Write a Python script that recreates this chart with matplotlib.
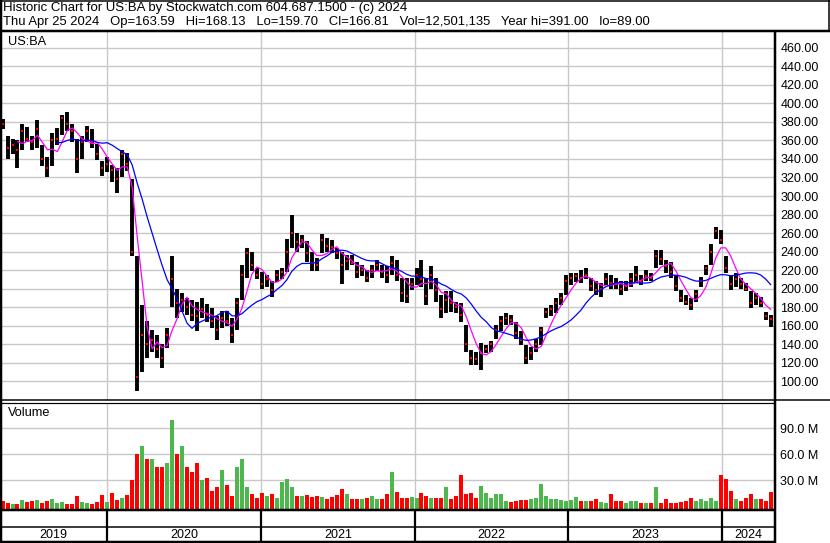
import numpy as np
import pandas as pd
import matplotlib
matplotlib.use('Agg')
import matplotlib.pyplot as plt
from matplotlib.lines import Line2D

plt.rcParams['font.family'] = ['Liberation Sans', 'DejaVu Sans']

# --- data (one sample every ~8 trading days) ---
hi = [383, 365, 362, 360, 378, 375, 365, 382, 355, 342, 368, 373, 388, 391, 378, 362, 365, 376, 372, 356,
      338, 342, 334, 330, 350, 346, 318, 235, 182, 165, 155, 150, 140, 158, 235, 200, 195, 190, 188,
      186, 190, 183, 179, 170, 176, 176, 168, 190, 226, 244, 240, 222, 218, 215, 208, 220, 222, 254, 279,
      260, 258, 251, 240, 233, 259, 255, 253, 244, 240, 236, 236, 229, 225, 220, 225, 231, 226,
      224, 235, 231, 211, 211, 211, 222, 231, 211, 224, 211, 193, 197, 197, 186, 184, 161, 134, 132, 141,
      139, 143, 161, 170, 174, 172, 164, 154, 139, 137, 146, 159, 179, 182, 190, 195, 215, 217, 217,
      220, 222, 211, 208, 206, 217, 215, 211, 208, 208, 217, 224, 215, 220, 217, 242, 242, 231, 229, 215,
      199, 193, 190, 199, 213, 226, 248, 267, 263, 235, 215, 217, 211, 206, 197, 195, 191, 175, 171]
lo = [372, 340, 345, 330, 350, 358, 350, 352, 332, 320, 332, 355, 366, 370, 358, 325, 340, 358, 352, 339,
      322, 326, 315, 303, 320, 327, 235, 89, 110, 125, 132, 125, 114, 136, 180, 168, 175, 172, 165,
      154, 168, 164, 157, 145, 157, 160, 141, 155, 188, 211, 219, 210, 200, 202, 191, 207, 210, 218, 244,
      240, 244, 229, 219, 219, 238, 240, 238, 232, 205, 220, 225, 211, 214, 207, 212, 219, 212,
      206, 215, 208, 186, 184, 199, 204, 202, 182, 200, 186, 168, 174, 175, 174, 164, 132, 118, 118, 112,
      130, 132, 146, 154, 161, 161, 146, 139, 119, 123, 132, 139, 168, 170, 174, 182, 193, 204, 207,
      206, 210, 197, 193, 191, 204, 200, 200, 193, 197, 202, 206, 204, 208, 208, 222, 226, 217, 211, 197,
      186, 182, 177, 186, 202, 215, 226, 254, 248, 217, 199, 202, 200, 197, 179, 182, 180, 166, 159]
cl = [378, 352, 355, 350, 370, 362, 358, 372, 340, 330, 360, 362, 384, 378, 370, 340, 358, 370, 358, 345,
      330, 335, 328, 318, 345, 335, 240, 105, 150, 140, 145, 135, 125, 150, 210, 185, 188, 180, 172,
      170, 178, 172, 165, 155, 168, 165, 150, 185, 215, 238, 225, 215, 205, 210, 198, 215, 218, 240, 260,
      250, 252, 238, 228, 225, 252, 246, 245, 238, 225, 230, 228, 218, 220, 212, 220, 225, 218,
      215, 228, 215, 195, 192, 205, 215, 210, 192, 215, 198, 178, 188, 185, 180, 172, 140, 125, 124, 130,
      135, 140, 155, 165, 168, 166, 152, 145, 125, 130, 140, 155, 175, 178, 185, 190, 208, 212, 214,
      212, 215, 203, 198, 200, 210, 206, 205, 200, 203, 210, 215, 208, 214, 212, 235, 232, 224, 218, 203,
      190, 186, 182, 194, 208, 222, 240, 262, 252, 222, 205, 210, 205, 200, 185, 190, 184, 170, 167]
# volume in millions
vol = [6, 4, 3, 3, 7, 5, 6, 7, 4, 6, 9, 4, 5, 3, 3, 12, 5, 4, 3, 5,
       13, 5, 15, 7, 10, 13, 30, 60, 70, 55, 55, 45, 45, 50, 100, 60, 70, 45, 40, 50,
       30, 33, 18, 22, 42, 25, 12, 45, 55, 22, 14, 10, 15, 12, 14, 10, 28, 32, 22, 12,
       12, 13, 11, 12, 11, 9, 11, 13, 20, 14, 8, 9, 9, 10, 12, 8, 9, 14, 40, 16,
       10, 10, 11, 10, 15, 12, 10, 10, 10, 22, 8, 12, 36, 14, 15, 10, 24, 15, 10, 14,
       14, 6, 5, 6, 7, 7, 8, 10, 26, 12, 8, 8, 7, 6, 7, 11, 6, 6, 6, 8,
       5, 4, 14, 6, 6, 4, 6, 6, 4, 4, 4, 22, 4, 8, 4, 4, 5, 6, 10, 6,
       9, 6, 10, 6, 36, 32, 18, 9, 6, 10, 14, 9, 8, 6, 17]

price_ticks = list(range(100, 461, 20))
vol_ticks = [30, 60, 90]
years = [2019, 2020, 2021, 2022, 2023, 2024]

dates = pd.date_range('2019-04-28', '2024-04-25', periods=len(hi))
closes = pd.Series(cl)
ma_short = closes.rolling(4).mean()
ma_long = closes.rolling(12).mean()
up = np.r_[False, np.diff(cl) >= 0]
vcol = np.where(up, '#4cb84c', '#ff0000')

W, H = 830, 543
def fx(x):
    return x / W
def fy(y):
    return 1 - y / H

x0, x1 = pd.Timestamp('2019-04-22'), pd.Timestamp('2024-05-03')
year_starts = [pd.Timestamp(f'{y}-01-01') for y in years[1:]]
grid = '#c8c8c8'

fig = plt.figure(figsize=(W / 100, H / 100), dpi=100)

# price panel
ax = fig.add_axes([0, fy(399.5), fx(774), (399.5 - 32) / H])
ax.set_xlim(x0, x1)
ax.set_ylim(80.3, 477.1)
for s in ax.spines.values():
    s.set_visible(False)
ax.set_xticks(year_starts)
ax.set_yticks(price_ticks)
ax.set_yticklabels([f'{p:.2f}' for p in price_ticks])
ax.yaxis.tick_right()
ax.tick_params(axis='y', length=0, pad=4.5, labelsize=9)
ax.tick_params(axis='x', length=0, labelbottom=False)
ax.grid(True, color=grid, lw=1.0)
ax.set_axisbelow(True)
ax.vlines(dates, lo, hi, color='black', lw=2.8)
ax.plot(dates, cl, 's', color='red', ms=2.0, mew=0)
ax.plot(dates, ma_short, color='#ff00ff', lw=0.9)
ax.plot(dates, ma_long, color='#0000ff', lw=0.9)

# volume panel
axv = fig.add_axes([0, fy(509), fx(774), (509 - 403) / H])
axv.set_xlim(x0, x1)
axv.set_ylim(-3.1, 119.2)
for s in axv.spines.values():
    s.set_visible(False)
axv.set_xticks(year_starts)
axv.set_yticks(vol_ticks)
axv.set_yticklabels([f'{v:.1f} M' for v in vol_ticks])
axv.yaxis.tick_right()
axv.tick_params(axis='y', length=0, pad=4, labelsize=9)
axv.tick_params(axis='x', length=0, labelbottom=False)
axv.grid(True, color=grid, lw=1.0)
axv.set_axisbelow(True)
axv.bar(dates, np.array(vol) + 3.1, bottom=-3.1, width=9.5, color=vcol, lw=0)

# date band
axd = fig.add_axes([0, 0, fx(774), (543 - 509) / H])
axd.set_xlim(x0, x1)
axd.set_ylim(543, 509)
axd.axis('off')
axd.vlines(year_starts, 509, 541.5, color='black', lw=1.6)
bounds = [x0] + year_starts + [x1]
for i, y in enumerate(years):
    mid = bounds[i] + (bounds[i + 1] - bounds[i]) / 2
    axd.text(mid, 535, str(y), ha='center', va='center', fontsize=9)

# frame lines
def hline(y, a, b, w):
    fig.add_artist(Line2D([fx(a), fx(b)], [fy(y), fy(y)], color='black', lw=w * 0.72,
                          transform=fig.transFigure, solid_capstyle='butt'))
def vline(x, a, b, w):
    fig.add_artist(Line2D([fx(x), fx(x)], [fy(a), fy(b)], color='black', lw=w * 0.72,
                          transform=fig.transFigure, solid_capstyle='butt'))

hline(0.5, 0, 830, 1.5)
hline(30.5, 0, 830, 2.5)
vline(828.5, 0, 31, 1.5)
vline(1, 0, 543, 2.5)
vline(774.5, 31, 543, 2.5)
hline(399.5, 0, 830, 1.5)
hline(402.8, 0, 774, 1.2)
hline(510, 0, 774, 2.5)
hline(527, 0, 774, 1.5)
hline(541.5, 0, 774, 2.5)

# texts
fig.text(fx(3), fy(8.5), 'Historic Chart for US:BA by Stockwatch.com 604.687.1500 - (c) 2024',
         fontsize=9.5, va='center')
fig.text(fx(3), fy(22), 'Thu Apr 25 2024   Op=163.59   Hi=168.13   Lo=159.70   Cl=166.81   '
         'Vol=12,501,135   Year hi=391.00   lo=89.00', fontsize=9.4, va='center')
fig.text(fx(8), fy(42), 'US:BA', fontsize=9.2, va='center')
fig.text(fx(8), fy(413), 'Volume', fontsize=9.2, va='center')

fig.savefig('out.png', dpi=100)
